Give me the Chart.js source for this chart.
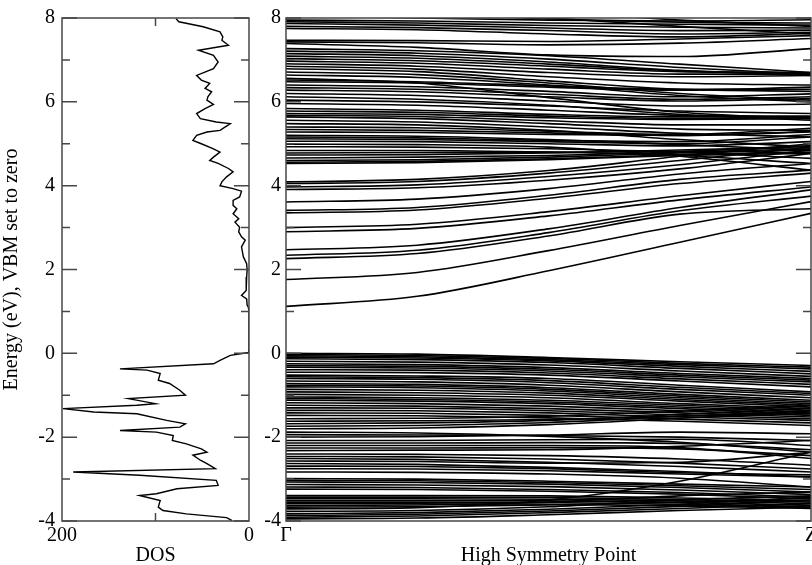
<!DOCTYPE html>
<html><head><meta charset="utf-8">
<script src="https://cdn.jsdelivr.net/npm/chart.js@4.4.0/dist/chart.umd.min.js"></script>
<style>
html,body{margin:0;padding:0;background:#fff;width:812px;height:565px;overflow:hidden;}
#c1{position:absolute;left:0;top:0;}
#c2{position:absolute;left:262px;top:0;}
</style></head><body>
<canvas id="c1" width="262" height="565"></canvas>
<canvas id="c2" width="550" height="565"></canvas>
<script>
// ---------- data ----------
const energyTicks = [-4, -2, 0, 2, 4, 6, 8];
const energyMinorTicks = [-3, -1, 1, 3, 5, 7];
const dosTicks = [0, 100, 200];
const dosLabelled = [0, 200];
const kPath = [0, 0.25, 0.5, 0.75, 1];
const kTicks = [0, 1];
const kLabels = ['Γ', 'Z'];

const dosEnergy = [7.98, 7.91, 7.79, 7.67, 7.55, 7.47, 7.35, 7.23, 7.11, 6.95,
  6.79, 6.63, 6.52, 6.44, 6.32, 6.24, 6.12, 6.04, 5.94, 5.84,
  5.72, 5.60, 5.52, 5.48, 5.32, 5.28, 5.20, 5.08, 5.00, 4.88,
  4.80, 4.68, 4.60, 4.53, 4.41, 4.33, 4.21, 4.09, 4.00, 3.93,
  3.87, 3.73, 3.65, 3.53, 3.45, 3.33, 3.21, 3.13, 3.01, 2.90,
  2.78, 2.70, 2.54, 2.30, 2.14, 1.99, 1.82, 1.50, 1.38, 1.30,
  1.15, 1.10, 1.00, 0.10, 0.02, -0.05, -0.17, -0.25, -0.37, -0.40,
  -0.48, -0.64, -0.72, -0.88, -1.00, -1.08, -1.20, -1.24, -1.32, -1.40,
  -1.44, -1.60, -1.68, -1.76, -1.84, -1.88, -1.96, -2.08, -2.16, -2.28,
  -2.36, -2.43, -2.55, -2.63, -2.75, -2.83, -2.91, -3.03, -3.15, -3.23,
  -3.35, -3.39, -3.51, -3.67, -3.75, -3.83, -3.92, -3.99];
const dosValues = [78, 75, 49, 31, 28, 29, 22, 54, 38, 33,
  38, 56, 51, 42, 47, 40, 44, 45, 38, 47,
  56, 52, 35, 20, 31, 45, 56, 60, 51, 38,
  31, 38, 42, 33, 22, 17, 24, 29, 31, 17,
  8, 10, 17, 17, 13, 17, 11, 15, 10, 11,
  8, 4, 8, 6, 2.5, 2, 2.5, 3, 8, 2.5,
  2, 0.7, 0, 0, 0.5, 20, 31, 38, 138, 109,
  95, 97, 85, 74, 68, 129, 100, 120, 199, 166,
  120, 88, 68, 74, 138, 99, 81, 82, 67, 51,
  45, 60, 52, 45, 36, 188, 117, 35, 33, 77,
  99, 117, 95, 97, 92, 67, 24, 18];

// band energies at k = Γ, 1/4, 1/2, 3/4, Z
const conductionBands = [
  [1.12, 1.36, 1.97, 2.65, 3.34],
  [1.76, 1.93, 2.45, 3.05, 3.62],
  [2.26, 2.38, 2.80, 3.32, 3.45],
  [2.34, 2.46, 2.88, 3.40, 3.75],
  [2.47, 2.58, 2.97, 3.48, 3.90],
  [2.90, 2.98, 3.28, 3.66, 3.97],
  [3.00, 3.08, 3.38, 3.76, 4.10],
  [3.35, 3.42, 3.70, 4.05, 4.30],
  [3.41, 3.48, 3.77, 4.15, 4.37],
  [3.61, 3.68, 3.93, 4.28, 4.53],
  [3.91, 3.95, 4.13, 4.40, 4.77],
  [3.97, 4.02, 4.22, 4.50, 4.85],
  [4.05, 4.10, 4.30, 4.60, 4.92],
  [4.09, 4.15, 4.36, 4.70, 5.00],
  [4.53, 4.55, 4.62, 4.72, 4.77],
  [4.56, 4.58, 4.64, 4.74, 4.80],
  [4.60, 4.62, 4.68, 4.78, 4.85],
  [4.66, 4.68, 4.72, 4.80, 4.88],
  [4.73, 4.74, 4.78, 4.85, 4.93],
  [4.78, 4.79, 4.80, 4.82, 4.96],
  [4.84, 4.84, 4.80, 4.72, 4.53],
  [4.93, 4.92, 4.88, 4.80, 4.65],
  [4.99, 4.98, 4.92, 4.70, 4.37],
  [5.06, 5.05, 5.00, 4.95, 5.05],
  [5.12, 5.10, 5.05, 5.00, 5.16],
  [5.16, 5.14, 5.08, 5.05, 5.22],
  [5.20, 5.18, 5.10, 4.98, 4.85],
  [5.28, 5.27, 5.22, 5.20, 5.28],
  [5.34, 5.32, 5.26, 5.20, 5.30],
  [5.40, 5.38, 5.30, 5.22, 5.37],
  [5.48, 5.45, 5.32, 5.10, 4.92],
  [5.56, 5.52, 5.40, 5.25, 5.16],
  [5.64, 5.60, 5.48, 5.35, 5.32],
  [5.68, 5.65, 5.55, 5.45, 5.45],
  [5.72, 5.70, 5.62, 5.58, 5.60],
  [5.78, 5.75, 5.66, 5.60, 5.62],
  [5.84, 5.80, 5.70, 5.64, 5.64],
  [5.96, 5.92, 5.80, 5.68, 5.66],
  [6.04, 6.00, 5.90, 5.78, 5.72],
  [6.12, 6.06, 5.92, 5.70, 5.56],
  [6.20, 6.15, 6.02, 5.90, 5.95],
  [6.28, 6.24, 6.12, 6.02, 6.08],
  [6.34, 6.30, 6.18, 6.06, 6.12],
  [6.40, 6.36, 6.25, 6.12, 6.19],
  [6.48, 6.45, 6.35, 6.28, 6.35],
  [6.52, 6.48, 6.38, 6.30, 6.30],
  [6.56, 6.45, 6.10, 5.75, 5.60],
  [6.64, 6.58, 6.40, 6.15, 6.00],
  [6.71, 6.65, 6.45, 6.20, 6.04],
  [6.79, 6.72, 6.50, 6.30, 6.25],
  [6.85, 6.78, 6.60, 6.45, 6.40],
  [6.91, 6.85, 6.70, 6.60, 6.63],
  [6.97, 6.92, 6.78, 6.66, 6.66],
  [7.03, 6.98, 6.85, 6.72, 6.70],
  [7.09, 7.04, 6.90, 6.74, 6.68],
  [7.15, 7.10, 6.95, 6.75, 6.63],
  [7.21, 7.16, 7.02, 6.82, 6.66],
  [7.27, 7.22, 7.10, 6.90, 6.70],
  [7.39, 7.30, 7.12, 7.08, 7.27],
  [7.43, 7.41, 7.36, 7.40, 7.51],
  [7.47, 7.46, 7.44, 7.50, 7.58],
  [7.75, 7.72, 7.62, 7.55, 7.63],
  [7.80, 7.77, 7.70, 7.62, 7.66],
  [7.87, 7.83, 7.76, 7.70, 7.71],
  [7.91, 7.88, 7.82, 7.78, 7.76],
  [7.95, 7.93, 7.88, 7.85, 7.83],
  [8.05, 8.00, 7.95, 7.93, 7.96],
  [8.15, 8.10, 7.98, 7.90, 7.88],
  [8.30, 8.20, 8.00, 7.80, 7.62],
  [8.50, 8.40, 8.15, 7.95, 7.80]
];
const valenceBands = [
  [0.00, -0.02, -0.10, -0.20, -0.29],
  [-0.03, -0.05, -0.12, -0.24, -0.33],
  [-0.06, -0.08, -0.15, -0.27, -0.37],
  [-0.09, -0.11, -0.18, -0.31, -0.43],
  [-0.13, -0.15, -0.22, -0.36, -0.49],
  [-0.19, -0.21, -0.28, -0.42, -0.55],
  [-0.25, -0.27, -0.34, -0.48, -0.60],
  [-0.29, -0.31, -0.38, -0.52, -0.64],
  [-0.33, -0.35, -0.42, -0.56, -0.68],
  [-0.39, -0.40, -0.47, -0.61, -0.74],
  [-0.45, -0.46, -0.52, -0.66, -0.80],
  [-0.52, -0.54, -0.60, -0.76, -0.92],
  [-0.56, -0.58, -0.65, -0.81, -0.96],
  [-0.60, -0.62, -0.70, -0.86, -1.00],
  [-0.66, -0.68, -0.76, -0.92, -1.06],
  [-0.72, -0.74, -0.82, -0.98, -1.12],
  [-0.76, -0.78, -0.86, -1.02, -1.16],
  [-0.80, -0.82, -0.90, -1.06, -1.20],
  [-0.86, -0.88, -0.95, -1.10, -1.24],
  [-0.92, -0.94, -1.00, -1.14, -1.28],
  [-0.98, -1.00, -1.06, -1.20, -1.32],
  [-1.04, -1.06, -1.12, -1.24, -1.36],
  [-1.08, -1.10, -1.16, -1.28, -1.40],
  [-1.12, -1.14, -1.20, -1.32, -1.44],
  [-1.18, -1.20, -1.26, -1.37, -1.48],
  [-1.24, -1.26, -1.32, -1.42, -1.52],
  [-1.30, -1.31, -1.37, -1.47, -1.56],
  [-1.36, -1.37, -1.42, -1.52, -1.60],
  [-1.42, -1.43, -1.48, -1.57, -1.66],
  [-1.48, -1.49, -1.54, -1.62, -1.72],
  [-1.56, -1.55, -1.50, -1.38, -1.24],
  [-1.62, -1.61, -1.58, -1.50, -1.44],
  [-1.68, -1.66, -1.60, -1.46, -1.30],
  [-1.74, -1.72, -1.65, -1.50, -1.36],
  [-1.80, -1.78, -1.70, -1.55, -1.40],
  [-1.88, -1.90, -1.98, -2.12, -2.36],
  [-1.94, -1.95, -1.96, -2.00, -2.08],
  [-2.00, -1.99, -1.95, -1.88, -1.92],
  [-2.08, -2.08, -2.06, -2.05, -2.20],
  [-2.14, -2.14, -2.13, -2.15, -2.30],
  [-2.20, -2.20, -2.20, -2.25, -2.51],
  [-2.26, -2.26, -2.25, -2.28, -2.44],
  [-2.32, -2.31, -2.30, -2.22, -2.08],
  [-2.40, -2.41, -2.44, -2.52, -2.67],
  [-2.46, -2.47, -2.52, -2.62, -2.76],
  [-2.51, -2.53, -2.60, -2.70, -2.83],
  [-2.57, -2.58, -2.62, -2.60, -2.36],
  [-2.63, -2.65, -2.72, -2.82, -2.95],
  [-2.69, -2.70, -2.75, -2.85, -2.90],
  [-2.75, -2.76, -2.80, -2.88, -2.95],
  [-2.83, -2.84, -2.88, -2.98, -3.19],
  [-2.99, -3.00, -3.05, -3.12, -3.19],
  [-3.03, -3.04, -3.08, -3.16, -3.25],
  [-3.07, -3.08, -3.12, -3.20, -3.31],
  [-3.13, -3.14, -3.18, -3.26, -3.37],
  [-3.19, -3.20, -3.25, -3.32, -3.43],
  [-3.24, -3.25, -3.29, -3.36, -3.47],
  [-3.39, -3.39, -3.40, -3.45, -3.51],
  [-3.43, -3.43, -3.44, -3.49, -3.55],
  [-3.47, -3.47, -3.48, -3.52, -3.59],
  [-3.51, -3.51, -3.52, -3.56, -3.63],
  [-3.55, -3.55, -3.56, -3.60, -3.67],
  [-3.59, -3.59, -3.60, -3.64, -3.70],
  [-3.63, -3.62, -3.55, -3.40, -3.31],
  [-3.67, -3.66, -3.62, -3.55, -3.50],
  [-3.71, -3.68, -3.50, -3.05, -2.36],
  [-3.77, -3.75, -3.66, -3.50, -3.40],
  [-3.83, -3.80, -3.72, -3.60, -3.43],
  [-3.87, -3.84, -3.76, -3.65, -3.51],
  [-3.91, -3.88, -3.80, -3.70, -3.59],
  [-3.95, -3.93, -3.85, -3.75, -3.67]
];

// ---------- drawing ----------
const FONT = {family: '"Liberation Serif", "DejaVu Serif", serif', size: 20};
const TITLE_FONT = {family: '"Liberation Serif", "DejaVu Serif", serif', size: 20, lineHeight: 1};
const FRAME = '#474747';

const frameTicks = {
  id: 'frameTicks',
  afterDatasetsDraw(chart, args, opts) {
    const {ctx, chartArea: a, scales} = chart;
    ctx.save();
    ctx.strokeStyle = FRAME;
    ctx.lineWidth = 1.5;
    ctx.strokeRect(a.left, a.top, a.right - a.left, a.bottom - a.top);
    const y = scales.y;
    const tick = (v, len) => {
      const p = y.getPixelForValue(v);
      ctx.beginPath();
      ctx.moveTo(a.left, p); ctx.lineTo(a.left + len, p);
      ctx.moveTo(a.right, p); ctx.lineTo(a.right - len, p);
      ctx.stroke();
    };
    energyTicks.forEach(v => tick(v, opts.major));
    energyMinorTicks.forEach(v => tick(v, opts.minor));
    (opts.xTicks || []).forEach(v => {
      const p = scales.x.getPixelForValue(v);
      ctx.beginPath();
      ctx.moveTo(p, a.top); ctx.lineTo(p, a.top + opts.minor);
      ctx.moveTo(p, a.bottom); ctx.lineTo(p, a.bottom - opts.minor);
      ctx.stroke();
    });
    ctx.restore();
  }
};

const yScaleCommon = (width, showTitle) => ({
  type: 'linear', min: -4, max: 8,
  afterBuildTicks: s => { s.ticks = energyTicks.map(v => ({value: v})); },
  ticks: {font: FONT, color: '#000', padding: showTitle ? 7 : 5},
  grid: {display: false, drawTicks: false},
  border: {display: false},
  title: {display: showTitle, text: 'Energy (eV), VBM set to zero', font: FONT, color: '#000', padding: {top: 0, bottom: 0}},
  afterFit: s => { s.width = width; s.paddingTop = 0; s.paddingBottom = 0; }
});

const xTitle = text => ({display: true, text: text, font: TITLE_FONT, color: '#000', padding: {top: 0, bottom: -1}});

// DOS panel
new Chart(document.getElementById('c1'), {
  type: 'scatter',
  data: {datasets: [{
    data: dosEnergy.map((e, i) => ({x: dosValues[i], y: e})),
    showLine: true, borderColor: '#000', borderWidth: 1.4, pointRadius: 0, tension: 0
  }]},
  options: {
    responsive: false, animation: false,
    layout: {padding: {left: 0, right: 13, top: 18, bottom: 0}},
    plugins: {legend: {display: false}, tooltip: {enabled: false},
      frameTicks: {major: 15, minor: 8, xTicks: [100]}},
    scales: {
      x: {
        type: 'linear', reverse: true, min: 0, max: 200,
        afterBuildTicks: s => { s.ticks = dosTicks.map(v => ({value: v})); },
        ticks: {font: FONT, color: '#000', maxRotation: 0, padding: 3,
          callback: v => dosLabelled.includes(v) ? String(v) : ''},
        grid: {display: false, drawTicks: false},
        border: {display: false},
        title: xTitle('DOS'),
        afterFit: s => { s.height = 44; s.paddingLeft = 0; s.paddingRight = 0; }
      },
      y: yScaleCommon(62, true)
    }
  },
  plugins: [frameTicks]
});

// band structure panel
const bandSets = conductionBands.concat(valenceBands).map(b => ({
  data: b.map((e, i) => ({x: kPath[i], y: e})),
  showLine: true, borderColor: '#000', borderWidth: 1.6, pointRadius: 0,
  cubicInterpolationMode: 'monotone'
}));

new Chart(document.getElementById('c2'), {
  type: 'scatter',
  data: {datasets: bandSets},
  options: {
    responsive: false, animation: false,
    layout: {padding: {left: 0, right: 1, top: 18, bottom: 0}},
    plugins: {legend: {display: false}, tooltip: {enabled: false},
      frameTicks: {major: 15, minor: 8}},
    scales: {
      x: {
        type: 'linear', min: 0, max: 1,
        afterBuildTicks: s => { s.ticks = kTicks.map(v => ({value: v})); },
        ticks: {font: FONT, color: '#000', maxRotation: 0, padding: 3,
          callback: v => kLabels[kTicks.indexOf(v)] || ''},
        grid: {display: false, drawTicks: false},
        border: {display: false},
        title: xTitle('High Symmetry Point'),
        afterFit: s => { s.height = 44; s.paddingLeft = 0; s.paddingRight = 0; }
      },
      y: yScaleCommon(24, false)
    }
  },
  plugins: [frameTicks]
});
</script></body></html>
